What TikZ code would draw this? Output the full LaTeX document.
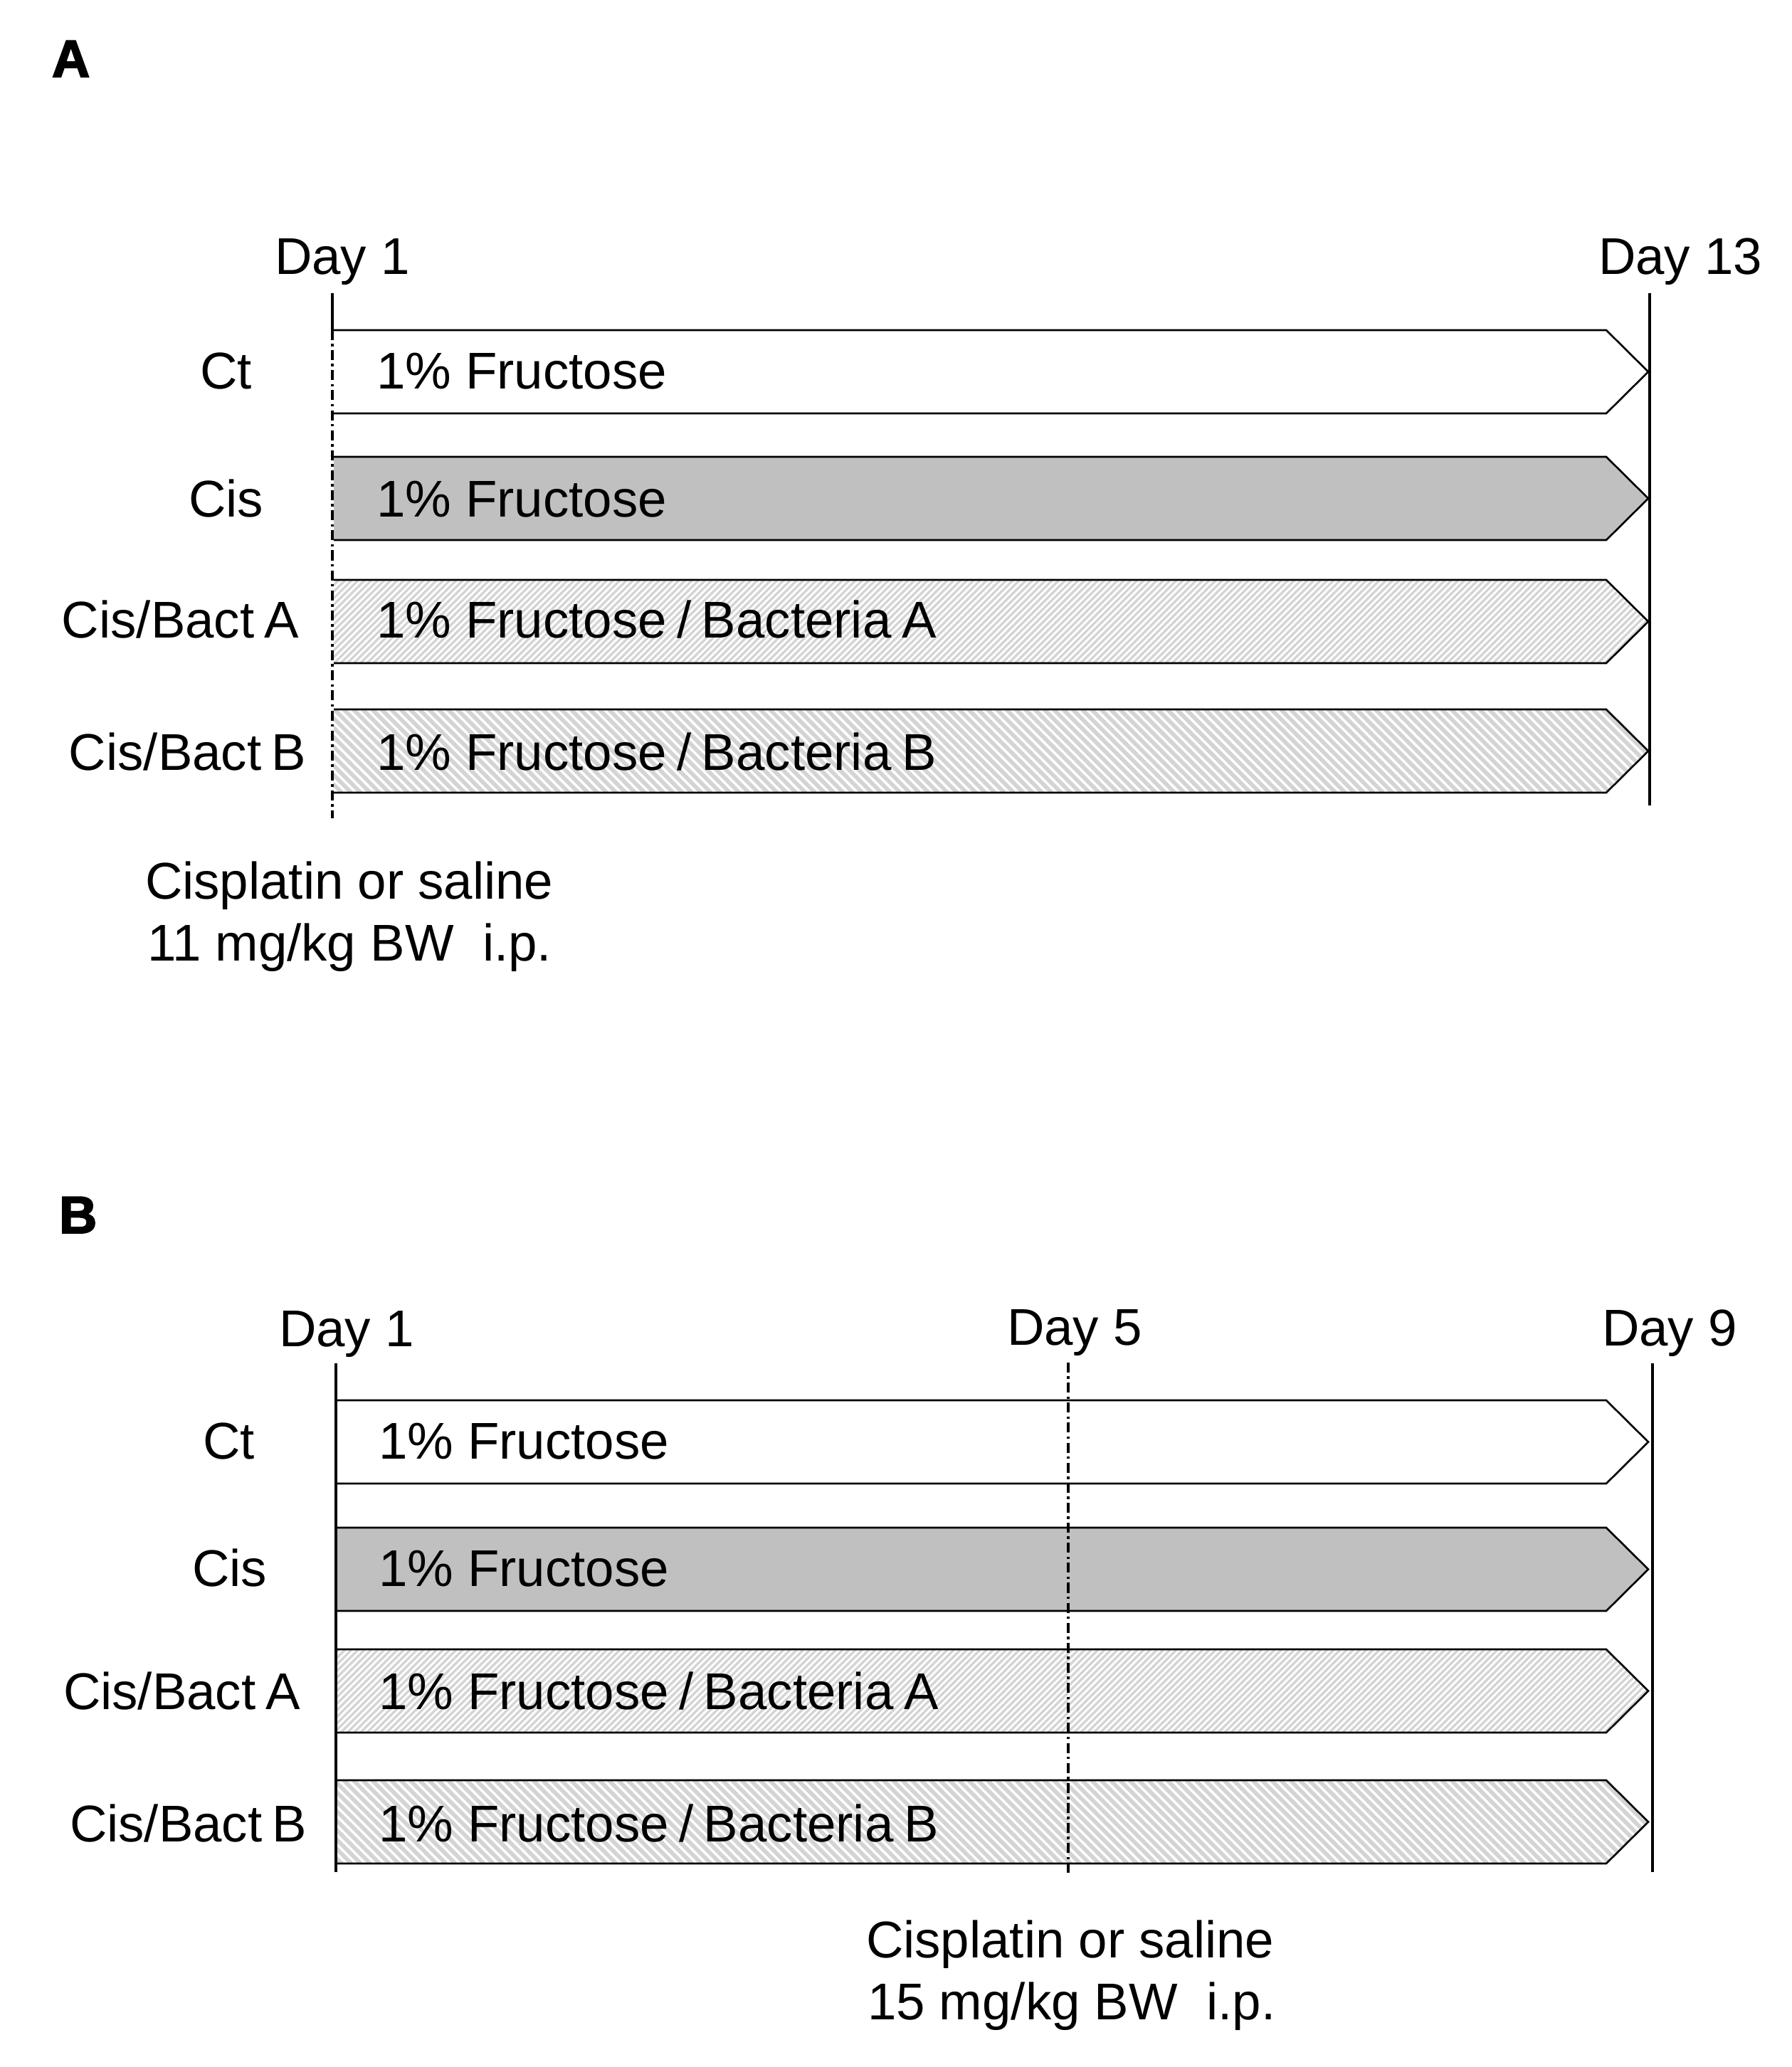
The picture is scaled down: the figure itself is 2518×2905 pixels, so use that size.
\documentclass[tikz,border=0pt]{standalone}
\usepackage{fontspec}
\setmainfont{Liberation Sans}
\newfontfamily\panelfont[FakeBold=2.5]{Liberation Sans Bold}
\definecolor{cisgray}{HTML}{C0C0C0}
\definecolor{hatchgray}{HTML}{D4D4D4}
\newcommand\barpath[2]{(#1,#2) -- (2257,#2) -- (2316,{#2+58.5}) -- (2257,{#2+117}) -- (#1,{#2+117}) -- cycle}
\newcommand\barfill[3]{\fill[#3] \barpath{#1}{#2};}
\newcommand\hatchup[2]{\begin{scope}\clip \barpath{#1}{#2};
  \foreach \hx in {350,359.2,...,2330} {\draw[hatchA] (\hx,{#2+117}) -- ({\hx+117},#2);}
  \end{scope}}
\newcommand\hatchdown[2]{\begin{scope}\clip \barpath{#1}{#2};
  \foreach \hx in {350,363.3,...,2330} {\draw[hatchB] (\hx,#2) -- ({\hx+117},{#2+117});}
  \end{scope}}
\newcommand\baropen[2]{\draw[barline] (#1,#2) -- (2257,#2) -- (2316,{#2+58.5}) -- (2257,{#2+117}) -- (#1,{#2+117});}
\newcommand\barclosed[2]{\draw[barline] \barpath{#1}{#2};}
\begin{document}
\begin{tikzpicture}[x=0.01cm,y=-0.01cm]
\tikzset{
  txt/.style={anchor=base west, inner sep=0pt, outer sep=0pt, font=\fontsize{20.66pt}{24pt}\selectfont},
  paneltxt/.style={txt, font=\fontsize{21pt}{24pt}\selectfont\panelfont},
  barline/.style={draw=black, line width=0.75pt, line join=miter},
  dayline/.style={draw=black, line width=1pt},
  dashdotline/.style={draw=black, line width=0.9pt, dash pattern=on 4pt off 1.5pt on 1pt off 1.5pt},
  hatchA/.style={draw=hatchgray, line width=0.95pt},
  hatchB/.style={draw=hatchgray, line width=1.6pt},
}
\useasboundingbox[fill=white] (0,0) rectangle (2518,2905);

% ---------------- Panel A ----------------
\node[paneltxt] (lblA) at (73,108) {A};
\node[txt] (a-d1) at (386,385) {Day 1};
\node[txt] (a-d13) at (2246,385) {Day 13};

\barfill{469}{464}{white}
\barfill{469}{642}{cisgray}
\hatchup{469}{815}
\hatchdown{469}{997}
\baropen{469}{464}
\baropen{469}{642}
\baropen{469}{815}
\baropen{469}{997}

\coordinate (a-d1top) at (467,412);
\coordinate (a-d1mid) at (467,464);
\coordinate (a-d1bot) at (467,1150);
\coordinate (a-d13top) at (2318,412);
\coordinate (a-d13bot) at (2318,1132);
\draw[dayline] (a-d1top) -- (a-d1mid);
\draw[dashdotline] (a-d1mid) -- (a-d1bot);
\draw[dayline] (a-d13top) -- (a-d13bot);

\node[txt] (a-ct) at (281,546) {Ct};
\node[txt] (a-cis) at (265,726) {Cis};
\node[txt] (a-ba) at (87,896) {Cis/Bact\hspace{0.2em}A};
\node[txt] (a-bb) at (97,1082) {Cis/Bact\hspace{0.2em}B};

\node[txt] (a-t1) at (529,546) {1\% Fructose};
\node[txt] (a-t2) at (529,726) {1\% Fructose};
\node[txt] (a-t3) at (529,896) {1\% Fructose\hspace{0.2em}/\hspace{0.2em}Bacteria\hspace{0.2em}A};
\node[txt] (a-t4) at (529,1082) {1\% Fructose\hspace{0.2em}/\hspace{0.2em}Bacteria\hspace{0.2em}B};

\node[txt] (a-c1) at (204,1263) {Cisplatin or saline};
\node[txt] (a-c2) at (207,1350) {11 mg/kg BW\ \ i.p.};

% ---------------- Panel B ----------------
\node[paneltxt] (lblB) at (83,1733) {B};
\node[txt] (b-d1) at (392,1892) {Day 1};
\node[txt] (b-d5) at (1415,1890) {Day 5};
\node[txt] (b-d9) at (2251,1891) {Day 9};

\barfill{472}{1968}{white}
\barfill{472}{2147}{cisgray}
\hatchup{472}{2318}
\hatchdown{472}{2502}
\barclosed{472}{1968}
\barclosed{472}{2147}
\barclosed{472}{2318}
\barclosed{472}{2502}

\coordinate (b-d1top) at (472,1916);
\coordinate (b-d1bot) at (472,2631);
\coordinate (b-d5top) at (1501,1915);
\coordinate (b-d5bot) at (1501,2635);
\coordinate (b-d9top) at (2322,1916);
\coordinate (b-d9bot) at (2322,2631);
\draw[dayline] (b-d1top) -- (b-d1bot);
\draw[dashdotline] (b-d5top) -- (b-d5bot);
\draw[dayline] (b-d9top) -- (b-d9bot);

\node[txt] (b-ct) at (285,2050) {Ct};
\node[txt] (b-cis) at (270,2229) {Cis};
\node[txt] (b-ba) at (89,2402) {Cis/Bact\hspace{0.2em}A};
\node[txt] (b-bb) at (98,2588) {Cis/Bact\hspace{0.2em}B};

\node[txt] (b-t1) at (532,2050) {1\% Fructose};
\node[txt] (b-t2) at (532,2229) {1\% Fructose};
\node[txt] (b-t3) at (532,2402) {1\% Fructose\hspace{0.2em}/\hspace{0.2em}Bacteria\hspace{0.2em}A};
\node[txt] (b-t4) at (532,2588) {1\% Fructose\hspace{0.2em}/\hspace{0.2em}Bacteria\hspace{0.2em}B};

\node[txt] (b-c1) at (1217,2751) {Cisplatin or saline};
\node[txt] (b-c2) at (1219,2838) {15 mg/kg BW\ \ i.p.};
\end{tikzpicture}
\end{document}
